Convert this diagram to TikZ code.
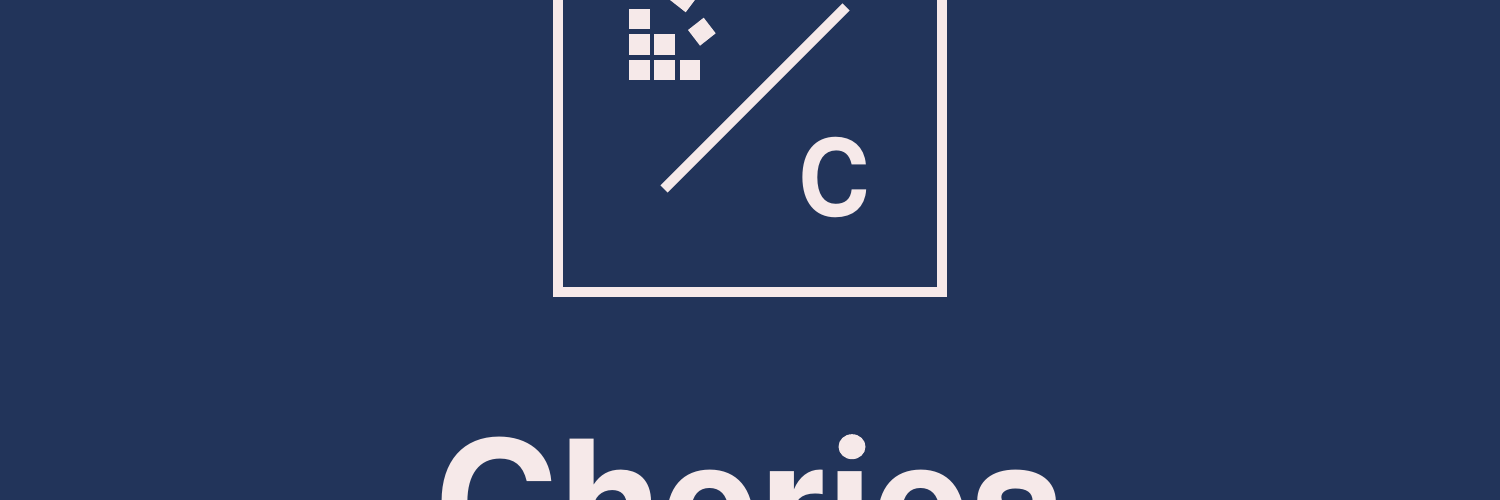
\documentclass[tikz,border=0pt]{standalone}
\usepackage{fontspec}
\setmainfont{TeX Gyre Heros}
\definecolor{navy}{HTML}{22345A}
\definecolor{blush}{HTML}{F6E9E9}
\tikzset{
  px/.style={x=1pt,y=-1pt},
  word/.style={text=blush,inner sep=0pt,anchor=base},
  tile/.style={fill=blush,draw=none},
  frame/.style={draw=blush,line width=10pt,fill=none},
  slash/.style={draw=blush,line width=10pt}
}
\begin{document}
\begin{tikzpicture}[px]
\path[use as bounding box,fill=navy] (0,0) rectangle (1500,500);
\clip (0,0) rectangle (1500,500);
\draw[frame] (558,-60) rectangle (942,292);
\coordinate (s1) at (664,189);
\coordinate (s2) at (846,7);
\draw[slash] (s1) -- (s2);
\foreach \x/\y in {629/9,629/34.5,654/34.5,629/60,654/60,679.5/60}
  \fill[tile] (\x,\y) rectangle ++(20.5,20.5);
\fill[tile] (703.7,17.7) -- (715.7,33.3) -- (700,45.7) -- (688,30) -- cycle;
\fill[tile] (685.7,12.3) -- (697.7,-3.7) -- (682,-16) -- (669.9,-0.1) -- cycle;
\node[word,xscale=0.93,font=\bfseries\fontsize{107}{107}\selectfont] (letter) at (834.5,216) {C};
\node[word,font=\bfseries\fontsize{172}{172}\selectfont] (title) at (750,564) {Cheries};
\fill[navy] (835,425) rectangle (868,461);
\fill[blush] (852,446.7) ellipse (13.5 and 12.5);
\end{tikzpicture}
\end{document}
